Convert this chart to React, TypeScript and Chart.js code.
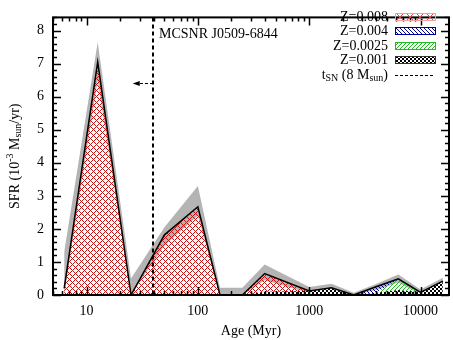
import React, { useEffect, useRef } from "react";
import { Chart, registerables } from "chart.js";

Chart.register(...registerables);

// ---- data ----
const ages = [6.3, 12.6, 25.1, 50.1, 100, 158, 251, 398, 1000, 1585, 2512, 3981, 6310, 10000, 15849];
const sfrZ008 = [0.2, 7.05, 0, 1.82, 2.67, 0, 0, 0.55, 0, 0, 0, 0, 0, 0, 0];
const sfrZ004 = [0, 0, 0, 0, 0, 0, 0, 0, 0, 0, 0, 0.18, 0.02, 0, 0];
const sfrZ0025 = [0, 0, 0, 0, 0, 0, 0, 0, 0, 0, 0, 0, 0.32, 0, 0];
const sfrZ001 = [0, 0, 0, 0, 0, 0, 0, 0.1, 0.12, 0.22, 0, 0.07, 0.15, 0.08, 0.42];
const errHigh = [1.3, 7.65, 0.5, 2.05, 3.3, 0.22, 0.22, 0.92, 0.24, 0.34, 0.07, 0.33, 0.62, 0.17, 0.52];
const errLow = [0, 6.5, 0, 1.5, 2.4, 0, 0, 0.45, 0.06, 0.15, 0, 0.15, 0.38, 0.02, 0.33];
const xTickValues = [10, 100, 1000, 10000];
const yTickValues = [0, 1, 2, 3, 4, 5, 6, 7, 8];
const tSN = 39.3;
const arrowEnd = 26;
const arrowLevel = 6.4;
const snrName = "MCSNR J0509-6844";
const legendLabels = ["Z=0.008", "Z=0.004", "Z=0.0025", "Z=0.001"];
const xTitle = "Age (Myr)";

const FONT = '"Liberation Serif", "Times New Roman", serif';

function tile(size: number, bg: string | null, fg: string, on: (i: number, j: number) => boolean) {
  const c = document.createElement("canvas");
  c.width = size;
  c.height = size;
  const g = c.getContext("2d")!;
  if (bg) {
    g.fillStyle = bg;
    g.fillRect(0, 0, size, size);
  }
  g.fillStyle = fg;
  for (let i = 0; i < size; i++)
    for (let j = 0; j < size; j++) if (on(i, j)) g.fillRect(i, j, 1, 1);
  return g.createPattern(c, "repeat")!;
}

export default function App() {
  const ref = useRef<HTMLCanvasElement>(null);
  useEffect(() => {
    const canvas = ref.current!;
    const pat = {
      red: tile(6, null, "#c81010", (i, j) => i === j || (i + j) % 6 === 0),
      blue: tile(4, null, "#000090", (i, j) => (i - j + 4) % 4 === 0),
      green: tile(4, null, "#22bb22", (i, j) => (i + j) % 4 === 0),
      checker: tile(4, "#ffffff", "#000000", (i, j) => (Math.floor(i / 2) + Math.floor(j / 2)) % 2 === 0),
    };
    const cum1 = sfrZ001.slice();
    const cum2 = cum1.map((v, i) => v + sfrZ0025[i]);
    const cum3 = cum2.map((v, i) => v + sfrZ004[i]);
    const cum4 = cum3.map((v, i) => v + sfrZ008[i]);
    const pts = (arr: number[]) => ages.map((a, i) => ({ x: a, y: arr[i] }));
    const hatch = (label: string, arr: number[], bg: any, fill: any, order: number) => ({
      label,
      data: pts(arr),
      borderWidth: 0,
      borderColor: "transparent",
      pointRadius: 0,
      backgroundColor: bg,
      fill,
      order,
      tension: 0,
    });

    const decor = {
      id: "decor",
      afterDraw(chart: any) {
        const { ctx, chartArea: a } = chart;
        const x = chart.scales.x;
        const y = chart.scales.y;
        ctx.save();
        ctx.fillStyle = "#000";
        ctx.strokeStyle = "#000";
        // tSN vertical dashed line
        const xs = Math.round(x.getPixelForValue(tSN));
        ctx.lineWidth = 2;
        ctx.setLineDash([4, 3]);
        ctx.beginPath();
        ctx.moveTo(xs, a.top);
        ctx.lineTo(xs, a.bottom);
        ctx.stroke();
        // arrow
        const ya = Math.round(y.getPixelForValue(arrowLevel)) + 0.5;
        const xe = x.getPixelForValue(arrowEnd);
        ctx.lineWidth = 1;
        ctx.setLineDash([3, 2]);
        ctx.beginPath();
        ctx.moveTo(xs, ya);
        ctx.lineTo(xe + 5, ya);
        ctx.stroke();
        ctx.setLineDash([]);
        ctx.beginPath();
        ctx.moveTo(xe, ya);
        ctx.lineTo(xe + 7, ya - 2.5);
        ctx.lineTo(xe + 7, ya + 2.5);
        ctx.closePath();
        ctx.fill();
        // frame
        ctx.lineWidth = 2;
        ctx.strokeRect(a.left, a.top, a.right - a.left, a.bottom - a.top);
        // x ticks
        ctx.lineWidth = 1.5;
        for (let e = 0; e <= 4; e++) {
          for (let m = 1; m <= 9; m++) {
            const v = m * Math.pow(10, e);
            if (v < x.min || v > x.max) continue;
            const px = Math.round(x.getPixelForValue(v)) + 0.5;
            const len = m === 1 ? 8 : 4;
            ctx.beginPath();
            ctx.moveTo(px, a.bottom);
            ctx.lineTo(px, a.bottom - len);
            ctx.moveTo(px, a.top);
            ctx.lineTo(px, a.top + len);
            ctx.stroke();
          }
        }
        // y ticks
        for (let k = 0; k <= 42; k++) {
          const v = k * 0.2;
          if (v > y.max + 1e-9) continue;
          const py = Math.round(y.getPixelForValue(v)) + 0.5;
          const len = k % 5 === 0 ? 8 : 4;
          ctx.beginPath();
          ctx.moveTo(a.left, py);
          ctx.lineTo(a.left + len, py);
          ctx.moveTo(a.right, py);
          ctx.lineTo(a.right - len, py);
          ctx.stroke();
        }
        // text helper
        const drawSegs = (segs: { t: string; s: number; dy: number }[], x0: number, y0: number, align: string) => {
          let w = 0;
          for (const sg of segs) {
            ctx.font = `${sg.s}px ${FONT}`;
            w += ctx.measureText(sg.t).width;
          }
          let cx = align === "center" ? x0 - w / 2 : align === "right" ? x0 - w : x0;
          ctx.textAlign = "left";
          ctx.textBaseline = "middle";
          for (const sg of segs) {
            ctx.font = `${sg.s}px ${FONT}`;
            ctx.fillText(sg.t, cx, y0 + sg.dy);
            cx += ctx.measureText(sg.t).width;
          }
        };
        // SNR name
        ctx.font = `14px ${FONT}`;
        ctx.textAlign = "left";
        ctx.textBaseline = "middle";
        ctx.fillText(snrName, xs + 6, 34);
        // x title
        ctx.textAlign = "center";
        ctx.fillText(xTitle, (a.left + a.right) / 2, 331);
        // y title
        ctx.save();
        ctx.translate(15, (a.top + a.bottom) / 2);
        ctx.rotate(-Math.PI / 2);
        drawSegs(
          [
            { t: "SFR (10", s: 14, dy: 0 },
            { t: "-3", s: 10, dy: -5 },
            { t: " M", s: 14, dy: 0 },
            { t: "sun", s: 10, dy: 3 },
            { t: "/yr)", s: 14, dy: 0 },
          ],
          0,
          0,
          "center"
        );
        ctx.restore();
        // legend
        const rows = [17, 31, 46, 60, 75];
        const tx = 388;
        const sx0 = 395;
        const sx1 = 435;
        const pats = [null, pat.blue, pat.green, pat.checker];
        const borders = ["#f0a0a0", "#000090", "#22bb22", "#333333"];
        for (let i = 0; i < 4; i++) {
          ctx.font = `14px ${FONT}`;
          ctx.textAlign = "right";
          ctx.textBaseline = "middle";
          ctx.fillStyle = "#000";
          ctx.fillText(legendLabels[i], tx, rows[i]);
          const top = rows[i] - 3;
          if (pats[i]) {
            ctx.fillStyle = pats[i];
            ctx.fillRect(sx0, top, sx1 - sx0, 6);
          } else {
            // sparse X marks for Z=0.008
            ctx.strokeStyle = "#e04040";
            ctx.lineWidth = 1;
            for (let k = 0; k < 4; k++) {
              const cx = sx0 + 5 + k * 10;
              ctx.beginPath();
              ctx.moveTo(cx - 3, top);
              ctx.lineTo(cx + 3, top + 6);
              ctx.moveTo(cx + 3, top);
              ctx.lineTo(cx - 3, top + 6);
              ctx.stroke();
            }
          }
          ctx.fillStyle = "#000";
          ctx.strokeStyle = borders[i];
          ctx.lineWidth = 1;
          ctx.strokeRect(sx0 + 0.5, top - 0.5, sx1 - sx0, 7);
        }
        ctx.strokeStyle = "#000";
        ctx.fillStyle = "#000";
        drawSegs(
          [
            { t: "t", s: 14, dy: 0 },
            { t: "SN", s: 10, dy: 3 },
            { t: " (8 M", s: 14, dy: 0 },
            { t: "sun", s: 10, dy: 3 },
            { t: ")", s: 14, dy: 0 },
          ],
          tx,
          rows[4],
          "right"
        );
        ctx.setLineDash([3, 2]);
        ctx.lineWidth = 1;
        ctx.beginPath();
        ctx.moveTo(sx0, rows[4] + 0.5);
        ctx.lineTo(sx1, rows[4] + 0.5);
        ctx.stroke();
        ctx.restore();
      },
    };

    const chart = new Chart(canvas, {
      type: "line",
      data: {
        datasets: [
          { label: "errLow", data: pts(errLow), borderWidth: 0, borderColor: "transparent", pointRadius: 0, fill: false, order: 10 },
          { label: "errHigh", data: pts(errHigh), borderWidth: 0, borderColor: "transparent", pointRadius: 0, fill: "-1", backgroundColor: "#b4b4b4", order: 9 },
          hatch(legendLabels[3], cum1, pat.checker, "origin", 8),
          hatch(legendLabels[2], cum2, pat.green, "-1", 7),
          hatch(legendLabels[1], cum3, pat.blue, "-1", 6),
          hatch(legendLabels[0], cum4, pat.red, "-1", 5),
          { label: "total", data: pts(cum4), borderColor: "#000", borderWidth: 1.5, pointRadius: 0, fill: false, order: 0 },
        ] as any,
      },
      options: {
        animation: false,
        responsive: false,
        maintainAspectRatio: false,
        layout: { padding: { top: 7, right: 4, left: 0, bottom: 0 } },
        plugins: { legend: { display: false }, tooltip: { enabled: false } },
        scales: {
          x: {
            type: "logarithmic",
            min: 5,
            max: 18000,
            grid: { display: false, drawTicks: false },
            border: { display: false },
            afterBuildTicks: (s: any) => {
              s.ticks = xTickValues.map((v) => ({ value: v }));
            },
            ticks: {
              color: "#000",
              font: { size: 14, family: FONT },
              padding: 8,
              maxRotation: 0,
              autoSkip: false,
              callback: (v: any) => String(v),
            },
            afterFit: (s: any) => {
              s.height = 45;
            },
          },
          y: {
            min: 0,
            max: 8.4,
            grid: { display: false, drawTicks: false },
            border: { display: false },
            afterBuildTicks: (s: any) => {
              s.ticks = yTickValues.map((v) => ({ value: v }));
            },
            ticks: {
              color: "#000",
              font: { size: 14, family: FONT },
              padding: 9,
              callback: (v: any) => String(v),
            },
            afterFit: (s: any) => {
              s.width = 53;
            },
          },
        },
      } as any,
      plugins: [decor],
    });
    return () => chart.destroy();
  }, []);
  return (
    <div style={{ position: "fixed", left: 0, top: 0, width: 453, height: 340, background: "#fff" }}>
      <canvas ref={ref} width={453} height={340} style={{ display: "block" }} />
    </div>
  );
}
